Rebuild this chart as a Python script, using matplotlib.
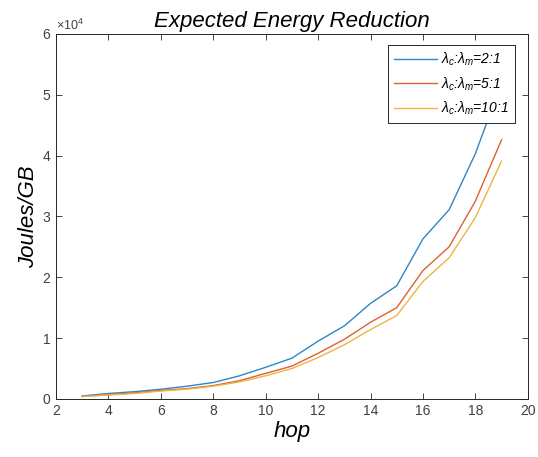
import matplotlib
matplotlib.use("Agg")
import matplotlib.pyplot as plt

hops = [3, 4, 5, 6, 7, 8, 9, 10, 11, 12, 13, 14, 15, 16, 17, 18, 19]
ratio_2_1 = [500, 900, 1200, 1600, 2100, 2700, 3800, 5200, 6700, 9500, 12000, 15700, 18600, 26300, 31100, 40300, 52000]
ratio_5_1 = [400, 700, 1000, 1400, 1700, 2200, 3000, 4200, 5400, 7500, 9800, 12600, 15000, 21100, 25000, 32500, 42600]
ratio_10_1 = [400, 650, 900, 1300, 1600, 2100, 2800, 3800, 5000, 6800, 8900, 11400, 13700, 19300, 23200, 29800, 39100]
labels = [r'$\lambda_c$:$\lambda_m$=2:1', r'$\lambda_c$:$\lambda_m$=5:1', r'$\lambda_c$:$\lambda_m$=10:1']
colors = ['#2E86C7', '#DC6232', '#EDB445']

plt.rcParams['font.family'] = ['Liberation Sans', 'DejaVu Sans']
plt.rcParams['mathtext.fontset'] = 'custom'
plt.rcParams['mathtext.it'] = 'Liberation Sans:italic'
plt.rcParams['mathtext.rm'] = 'Liberation Sans'

fig = plt.figure(figsize=(5.38, 4.57), dpi=100)
ax = fig.add_axes([0.104, 0.127, 0.877, 0.799])

for ys, lab, c in zip([ratio_2_1, ratio_5_1, ratio_10_1], labels, colors):
    ax.plot(hops, ys, color=c, lw=1.0, label=lab)

ax.set_xlim(2, 20)
ax.set_ylim(0, 60000)
ax.set_xticks(range(2, 21, 2))
ax.set_yticks(range(0, 60001, 10000))
ax.ticklabel_format(axis='y', style='sci', scilimits=(4, 4), useMathText=True)
ax.yaxis.get_offset_text().set_fontsize(9)
ax.yaxis.get_offset_text().set_color('#404040')

ax.tick_params(direction='in', top=True, right=True, length=4, width=0.6,
               labelsize=10, colors='#262626', labelcolor='#404040')
for s in ax.spines.values():
    s.set_linewidth(0.7)
    s.set_color('#262626')

ax.set_title('Expected Energy Reduction', fontsize=16, style='italic', pad=5)
ax.set_xlabel('hop', fontsize=16, style='italic', labelpad=2)
ax.set_ylabel('Joules/GB', fontsize=16, style='italic', labelpad=2)

leg = ax.legend(loc='upper right', bbox_to_anchor=(0.982, 0.982), fancybox=False,
                prop={'style': 'italic', 'size': 10}, handlelength=3.1, handletextpad=0.3,
                borderpad=0.45, labelspacing=0.5, framealpha=1, edgecolor='#262626',
                borderaxespad=0.3)
leg.get_frame().set_linewidth(0.7)

fig.savefig('out.png', dpi=100)
